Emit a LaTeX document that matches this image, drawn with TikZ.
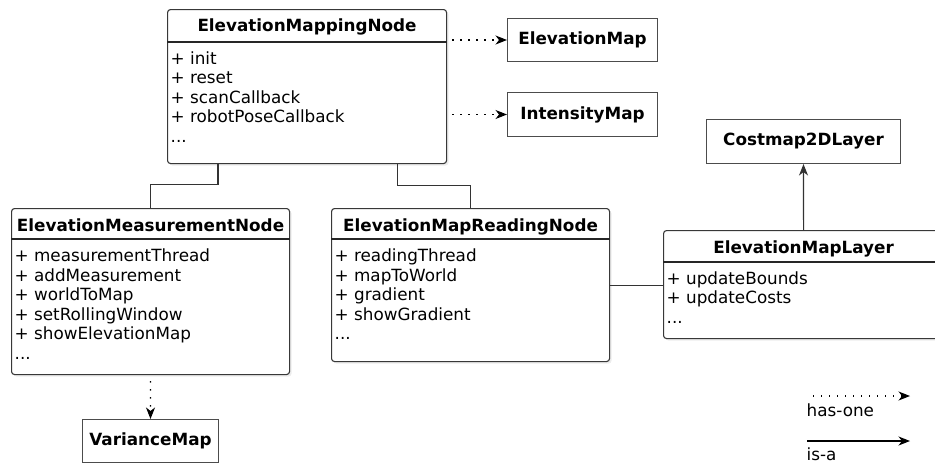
\documentclass[tikz,border=0pt]{standalone}
\usepackage{fontspec}
\setmainfont{DejaVu Sans}
\usetikzlibrary{arrows.meta,shadows,calc}

\newcommand\umlfont{\fontsize{16.8}{19.5}\selectfont}

\begin{document}
\begin{tikzpicture}[x=1pt,y=-1pt,
  every node/.style={font=\umlfont},
  classbox/.style={draw=black!78, line width=1.1pt, rounded corners=3pt, fill=white,
    anchor=north west, inner sep=0pt,
    drop shadow={shadow xshift=2pt, shadow yshift=-2pt, opacity=0.15}},
  plainbox/.style={draw=black!70, line width=1pt, fill=white, anchor=north west,
    inner sep=0pt, font=\umlfont\bfseries},
  classtitle/.style={font=\umlfont\bfseries, inner sep=0pt, anchor=base},
  members/.style={anchor=north west, align=left, inner sep=0pt},
  headsep/.style={draw=black!85, line width=1.4pt},
  link/.style={draw=black!80, line width=1.1pt},
  tip/.style={-{Stealth[length=11.5pt,width=9pt,inset=3.5pt]}},
  hasone/.style={link, draw=black, dash pattern=on 1.4pt off 6.6pt, tip},
  isa/.style={link, tip},
]
\useasboundingbox (0,0) rectangle (935,464);
\clip (0,0) rectangle (935,464);

% --- class boxes ---------------------------------------------------------
\node[classbox, minimum width=279pt, minimum height=154pt] (emn) at (167,9) {};
\draw[headsep] ($(emn.north west)+(0,33)$) -- ($(emn.north east)+(0,33)$);
\node[classtitle] (emn-t) at ($(emn.north)+(0,22.5)$) {ElevationMappingNode};
\node[members] (emn-m) at ($(emn.north west)+(3.5,41.3)$)
  {\strut+ init\\+ reset\\+ scanCallback\\+ robotPoseCallback\\...};

\node[classbox, minimum width=278pt, minimum height=166pt] (meas) at (11,208) {};
\draw[headsep] ($(meas.north west)+(0,31)$) -- ($(meas.north east)+(0,31)$);
\node[classtitle] (meas-t) at ($(meas.north)+(0,23)$) {ElevationMeasurementNode};
\node[members] (meas-m) at ($(meas.north west)+(3.5,40)$)
  {\strut+ measurementThread\\+ addMeasurement\\+ worldToMap\\+ setRollingWindow\\+ showElevationMap\\...};

\node[classbox, minimum width=278pt, minimum height=153pt] (read) at (331,208) {};
\draw[headsep] ($(read.north west)+(0,31)$) -- ($(read.north east)+(0,31)$);
\node[classtitle] (read-t) at ($(read.north)+(0,23)$) {ElevationMapReadingNode};
\node[members] (read-m) at ($(read.north west)+(3.5,40)$)
  {\strut+ readingThread\\+ mapToWorld\\+ gradient\\+ showGradient\\...};

\node[classbox, minimum width=280pt, minimum height=108pt] (layer) at (663,230) {};
\draw[headsep] ($(layer.north west)+(0,32)$) -- ($(layer.north east)+(0,32)$);
\node[classtitle] (layer-t) at ($(layer.north)+(0,23)$) {ElevationMapLayer};
\node[members] (layer-m) at ($(layer.north west)+(3.5,40.6)$)
  {\strut+ updateBounds\\+ updateCosts\\...};

% --- plain boxes ---------------------------------------------------------
\node[plainbox, minimum width=150pt, minimum height=43pt] (emap) at (507,18) {ElevationMap};
\node[plainbox, minimum width=150pt, minimum height=44pt] (imap) at (507,92) {IntensityMap};
\node[plainbox, minimum width=194pt, minimum height=44pt] (cost) at (706,119) {Costmap2DLayer};
\node[plainbox, minimum width=136pt, minimum height=43pt] (vmap) at (82,419) {VarianceMap};

% --- connectors ----------------------------------------------------------
\draw[link] ($(emn.south west)+(51,0)$) -- ++(0,20) -| (meas.north);
\draw[link] ($(emn.south east)+(-50,0)$) -- ++(0,21) -| (read.north);
\draw[link] (read.east) -- (read.east -| layer.west);
\draw[isa] (layer.north) -- (cost.south);

\draw[hasone, shorten <=5pt] (emn.east |- emap.west) -- (emap.west);
\draw[hasone, shorten <=5pt] (emn.east |- imap.west) -- (imap.west);
\draw[hasone, shorten <=6pt] (meas.south) -- (vmap.north);

% --- legend --------------------------------------------------------------
\coordinate (h0) at (813,396);
\coordinate (h1) at (910,396);
\coordinate (i0) at (807,441);
\coordinate (i1) at (910,441);
\draw[hasone] (h0) -- (h1);
\draw[isa, draw=black] (i0) -- (i1);
\node[anchor=base west, inner sep=0pt] (hasone-l) at (806.5,416) {has-one};
\node[anchor=base west, inner sep=0pt] (isa-l) at (806.5,460) {is-a};
\end{tikzpicture}
\end{document}
